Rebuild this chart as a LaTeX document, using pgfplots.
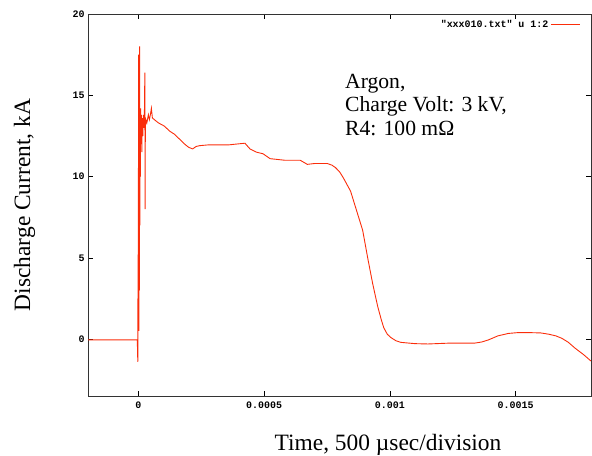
\documentclass[border=0pt]{standalone}
\usepackage{fontspec}
\setmainfont{Liberation Serif}
\newfontfamily\gpfont{Liberation Mono}
\usepackage{pgfplots}
\pgfplotsset{compat=1.18}
\definecolor{gpred}{RGB}{250,45,10}

\begin{document}
\begin{tikzpicture}[x=1bp,y=1bp]
\path (0,0) rectangle (592,456);
\begin{axis}[
    at={(88bp,60bp)}, anchor=south west,
    scale only axis, width=503bp, height=382bp,
    xmin=-200, xmax=1800, ymin=-3.5, ymax=20,
    xtick={0,500,1000,1500},
    xticklabels={0,0.0005,0.001,0.0015},
    ytick={0,5,10,15,20},
    tick align=inside, major tick length=5bp,
    tick style={black, line width=0.5pt},
    axis line style={black!80, line width=0.7pt},
    tick label style={font=\gpfont\bfseries\fontsize{10}{11}\selectfont},
    /pgf/number format/assume math mode=true,
    xticklabel style={yshift=-2bp},
    legend style={draw=none, fill=none, at={(axis description cs:0.985,0.995)}, anchor=north east,
        font=\gpfont\bfseries\fontsize{10}{11}\selectfont},
    legend plot pos=right,
    legend cell align=right,
    legend image code/.code={\draw[#1] (0bp,0bp) -- (29bp,0bp);},
]
\addplot[gpred, line width=0.9pt] coordinates {
    (-200,-0.05) (-150,-0.05) (-100,-0.05) (-50,-0.05) (-4,-0.05)
    (-2,-1.4) (-1,5.2) (0,1.0) (1,17.5) (2,0.5) (3,16.0) (4,3.0) (5,18.0)
    (6,7.0) (7,14.0) (8,10.0) (9,14.2) (10,12.0) (12,13.8) (14,11.5)
    (16,13.6) (18,12.5) (20,13.8) (22,13.0) (24,13.5) (26,16.4) (27,8.0)
    (28,13.0) (30,13.5) (34,13.3) (40,13.8) (44,13.5) (48,13.8) (52,14.2)
    (56,13.6) (64,13.5) (80,13.3) (104,13.1) (124,12.8) (144,12.6)
    (164,12.3) (184,12.0) (200,11.8) (216,11.7) (230,11.85) (244,11.9)
    (280,11.95) (324,11.95) (360,11.95) (392,12.0) (424,12.05) (444,11.7)
    (470,11.5) (496,11.4) (524,11.1) (554,11.05) (584,11.0) (614,11.0)
    (644,11.0) (672,10.75) (700,10.8) (730,10.8) (752,10.8) (770,10.7)
    (784,10.55) (800,10.3) (816,9.9) (830,9.5) (844,9.1) (858,8.4)
    (872,7.7) (892,6.7) (912,5.0) (932,3.4) (952,2.0) (966,1.2)
    (976,0.7) (990,0.3) (1004,0.1) (1024,-0.1) (1044,-0.2) (1100,-0.28)
    (1152,-0.3) (1200,-0.27) (1232,-0.25) (1280,-0.25) (1336,-0.25)
    (1365,-0.18) (1392,-0.05) (1430,0.2) (1472,0.35) (1510,0.4)
    (1552,0.4) (1600,0.38) (1632,0.3) (1660,0.2) (1684,0.05)
    (1710,-0.2) (1736,-0.55) (1770,-0.95) (1800,-1.35)
};
\addlegendentry{"xxx010.txt" u 1:2}
\end{axis}
\node[anchor=north west, align=left, inner sep=0pt,
      font=\fontsize{21.7}{23.5}\selectfont] at (345,382) {Argon,\\Charge Volt: 3 kV,\\R4: 100 mΩ};
\node[anchor=base, inner sep=0pt, font=\fontsize{23.5}{26}\selectfont] at (388,5) {Time, 500 µsec/division};
\node[anchor=base, rotate=90, inner sep=0pt, font=\fontsize{23.5}{26}\selectfont] at (30,251) {Discharge Current, kA};
\end{tikzpicture}
\end{document}
